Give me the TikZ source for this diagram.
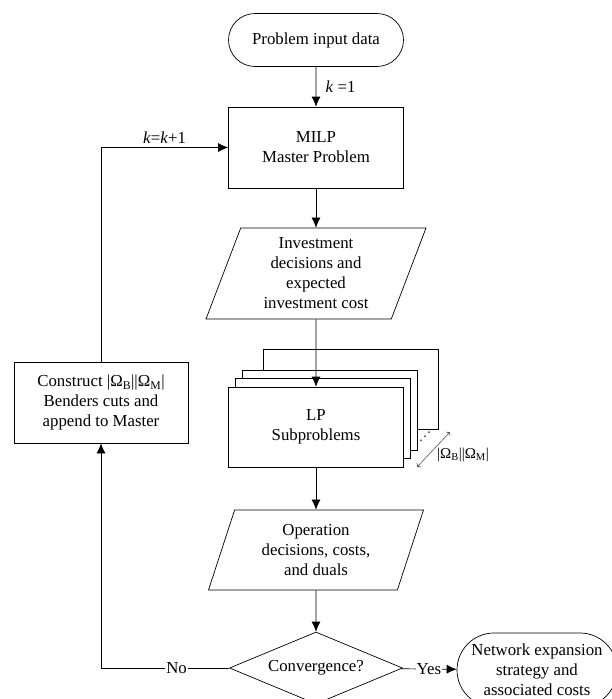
\documentclass[tikz,border=0pt]{standalone}
\usepackage{fontspec}
\setmainfont{Liberation Serif}
\newfontfamily\symfont{DejaVu Sans}
\usetikzlibrary{shapes.geometric,shapes.misc,arrows.meta}

\tikzset{
	every node/.style={font=\fontsize{16.8}{20}\selectfont},
	box/.style={draw, rectangle, fill=white, align=center, inner sep=0pt,
		minimum width=175pt, minimum height=81pt},
	term/.style={draw, rounded rectangle, align=center, inner sep=0pt},
	io/.style={draw, trapezium, trapezium left angle=64, trapezium right angle=116,
		trapezium stretches body, align=center, inner sep=0pt,
		minimum width=220pt, minimum height=91pt},
	decide/.style={draw, diamond, aspect=2.4, inner sep=0pt,
		minimum width=173pt, minimum height=72pt},
}

\begin{document}
\begin{tikzpicture}[x=1pt, y=-1pt, line width=0.7pt, >={Latex[length=10pt,width=9pt]}]
	\useasboundingbox (0,0) rectangle (611,699);

	\node[term, minimum width=175pt, minimum height=53pt] (start) at (316,40) {Problem input data};
	\node[box] (master) at (316,147.5) {MILP\\Master Problem};
	\node[io] (invest) at (316,273.5) {Investment\\decisions and\\expected\\investment cost};
	
	% stack of subproblems, back to front
	\node[box, minimum height=80pt] (sub3) at (351,389) {};
	\node[box, minimum height=80pt] (sub2) at (330,410) {};
	\node[box, minimum height=80pt] (sub1) at (323,418) {};
	\node[box, minimum height=80pt] (sub)  at (316,427) {LP\\Subproblems};
	\node[font=\symfont\fontsize{12}{12}\selectfont] (dots) at (425,437) {⋰};
	\coordinate (countA) at (417,467);
	\coordinate (countB) at (450,432);
	\node[font=\fontsize{15}{15}\selectfont] (count) at (463,455) {|Ω\textsubscript{B}||Ω\textsubscript{M}|};
	
	\node[io, minimum width=215pt, minimum height=80pt,
		trapezium left angle=63, trapezium right angle=117] (oper) at (316,550) {Operation\\decisions, costs,\\and duals};
	\node[decide] (conv) at (316,668) {Convergence?};
	\node[term, minimum width=160pt, minimum height=74pt] (result) at (537,670) {Network expansion\\strategy and\\associated costs};
	\node[box, minimum width=174pt] (cuts) at (101,402.5) {Construct |Ω\textsubscript{B}||Ω\textsubscript{M}|\\Benders cuts and\\append to Master};
	
	\path [->] (start) edge node[right, xshift=6pt] {\textit{k} =1} (master);
	\path [->] (master) edge (invest);
	\path [->] (invest) edge (sub);
	\path [->] (sub) edge (oper);
	\path [->] (oper) edge (conv);
	\path [->] (conv) edge node[fill=white, inner sep=1pt] {Yes} (result);
	\draw [->] (conv) -- node[fill=white, inner sep=1pt, pos=0.41] {No} (conv -| cuts) -- (cuts);
	\draw [->] (cuts) |- node[above, pos=0.75] {\textit{k}=\textit{k}+1} (master);
	\draw [{To}-{To}, gray!70!black, line width=0.6pt] (countA) -- (countB);
\end{tikzpicture}
\end{document}
